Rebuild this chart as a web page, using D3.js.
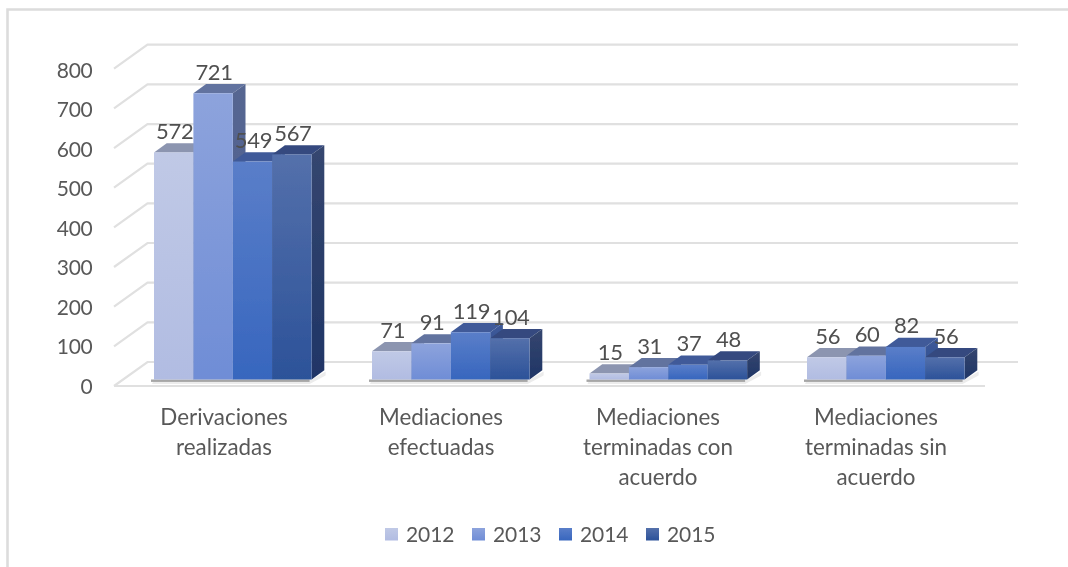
<!DOCTYPE html>
<html><head><meta charset="utf-8">
<script src="https://cdnjs.cloudflare.com/ajax/libs/d3/7.8.5/d3.min.js"></script>
<style>html,body{margin:0;padding:0;background:#fff}svg{display:block}text{font-family:Lato,"Open Sans",sans-serif;}</style>
</head><body><div id="c"></div>
<script>
const categories=[["Derivaciones","realizadas"],["Mediaciones","efectuadas"],["Mediaciones","terminadas con","acuerdo"],["Mediaciones","terminadas sin","acuerdo"]];
const years=["2012","2013","2014","2015"];
const values2012=[572,71,15,56];
const values2013=[721,91,31,60];
const values2014=[549,119,37,82];
const values2015=[567,104,48,56];
const yTicks=[0,100,200,300,400,500,600,700,800];
const series=[values2012,values2013,values2014,values2015];
const topColors=["#c0c9e6","#8da3dc","#5a7ec9","#5470ab"];
const botColors=["#b1bce2","#6f8dd6","#3766be","#2c5299"];
const topFace=["#8c95b0","#62739f","#3f5a99","#344a7f"];
const sideTop=["#8c95b0","#566691","#3f5a99","#35466f"];
const sideBot=["#7a85a6","#4a5f92","#2a4d8f","#1f3566"];

const W=1068,H=567,dx=12.7,dy=-9.2;
const svgRoot=d3.select("#c").append("svg").attr("width",W).attr("height",H);
const defs=svgRoot.append("defs");
const y=d3.scaleLinear().domain([0,800]).range([379.5,61.9]);
const yGrid=d3.scaleLinear().domain([0,800]).range([386,68.7]);
const yLabel=d3.scaleLinear().domain([0,800]).range([386.5,70.5]);
const groupX=[154,372,589.5,807];
const bw=39.4;
const x=d3.scaleBand().domain(d3.range(4)).range([0,bw*4]);

series.forEach((s,i)=>{
  const g=defs.append("linearGradient").attr("id","f"+i).attr("x1",0).attr("x2",0).attr("y1",0).attr("y2",1);
  g.append("stop").attr("offset",0).attr("stop-color",topColors[i]);
  g.append("stop").attr("offset",1).attr("stop-color",botColors[i]);
  const h=defs.append("linearGradient").attr("id","s"+i).attr("x1",0).attr("x2",0).attr("y1",0).attr("y2",1);
  h.append("stop").attr("offset",0).attr("stop-color",sideTop[i]);
  h.append("stop").attr("offset",1).attr("stop-color",sideBot[i]);
});
defs.append("filter").attr("id","soft").attr("x",0).attr("y",0).attr("width",W).attr("height",H).attr("filterUnits","userSpaceOnUse")
  .append("feGaussianBlur").attr("stdDeviation",0.5);
const svg=svgRoot.append("g").attr("filter","url(#soft)");
svg.append("rect").attr("width",W).attr("height",H).attr("fill","#fff");

// frame: top and left only
svg.append("path").attr("d","M7.5,567V9.5H1068").attr("fill","none").attr("stroke","#dcdcdc").attr("stroke-width",2.6);

// 3D walls gridlines
const grid=svg.append("g").attr("fill","none").attr("stroke","#e0e0e0").attr("stroke-width",2.2);
const wallDX=33.5,wallDY=-24;
yTicks.forEach(v=>{
  const yy=yGrid(v);
  grid.append("path").attr("d",`M114,${yy}L${114+wallDX},${yy+wallDY}H1018`);
});
grid.append("path").attr("d",`M114,${yGrid(0)}H985`);

// floor shadows
groupX.forEach(gx=>{
  svg.append("path").attr("d",`M${gx-2},384 L${gx},${y(0)} H${gx+4*bw} L${gx+4*bw+14},${y(0)-8} V${y(0)-4} L${gx+4*bw-2},384 Z`)
   .attr("fill","#ececec");
  svg.append("rect").attr("x",gx-3).attr("y",y(0)).attr("width",4*bw+1).attr("height",2.4).attr("fill","#a6a6a6");
});

// bars
const bars=svg.append("g");
categories.forEach((c,ci)=>{
  const g=bars.append("g").attr("transform",`translate(${groupX[ci]},0)`);
  series.forEach((s,si)=>{
    const v=s[ci],l=x(si),r=l+x.bandwidth(),t=y(v),b=y(0);
    g.append("path").attr("d",`M${l},${t}L${l+dx},${t+dy}H${r+dx}L${r},${t}Z`).attr("fill",topFace[si]);
    g.append("path").attr("d",`M${r},${t}L${r+dx},${t+dy}V${b+dy}L${r},${b}Z`).attr("fill",`url(#s${si})`);
  });
  series.forEach((s,si)=>{
    const v=s[ci],l=x(si),t=y(v),b=y(0);
    g.append("rect").attr("x",l).attr("y",t).attr("width",x.bandwidth()).attr("height",b-t).attr("fill",`url(#f${si})`);
  });
});

// y axis labels
const axis=d3.axisLeft(yLabel).tickValues(yTicks).tickSize(0).tickPadding(0);
const ag=svg.append("g").attr("transform","translate(92.5,0)").call(axis);
ag.select(".domain").remove();
ag.selectAll("text").attr("font-size",21).attr("fill","#595959").attr("letter-spacing",-0.3).style("font-family","Lato,sans-serif");

// data labels
const lab=svg.append("g").attr("font-size",22).attr("fill","#505050").attr("text-anchor","middle").attr("letter-spacing",-0.3);
categories.forEach((c,ci)=>{
  series.forEach((s,si)=>{
    lab.append("text").attr("x",groupX[ci]+x(si)+x.bandwidth()/2+1).attr("y",y(s[ci])-13.5).text(s[ci]);
  });
});

// category labels
const catX=[224,441,658,876],catTop=425;
const cl=svg.append("g").attr("font-size",22.4).attr("fill","#595959").attr("text-anchor","middle");
categories.forEach((c,ci)=>{
  c.forEach((t,li)=>cl.append("text").attr("x",catX[ci]).attr("y",catTop+li*29.8).text(t));
});

// legend
const legX=[385,472,559,646];
const lg=svg.append("g");
years.forEach((yr,i)=>{
  lg.append("rect").attr("x",legX[i]).attr("y",528).attr("width",13).attr("height",12.5).attr("fill",`url(#f${i})`);
  lg.append("text").attr("x",legX[i]+21).attr("y",542).attr("font-size",21).attr("letter-spacing",-0.1).attr("fill","#595959").text(yr);
});
</script></body></html>
